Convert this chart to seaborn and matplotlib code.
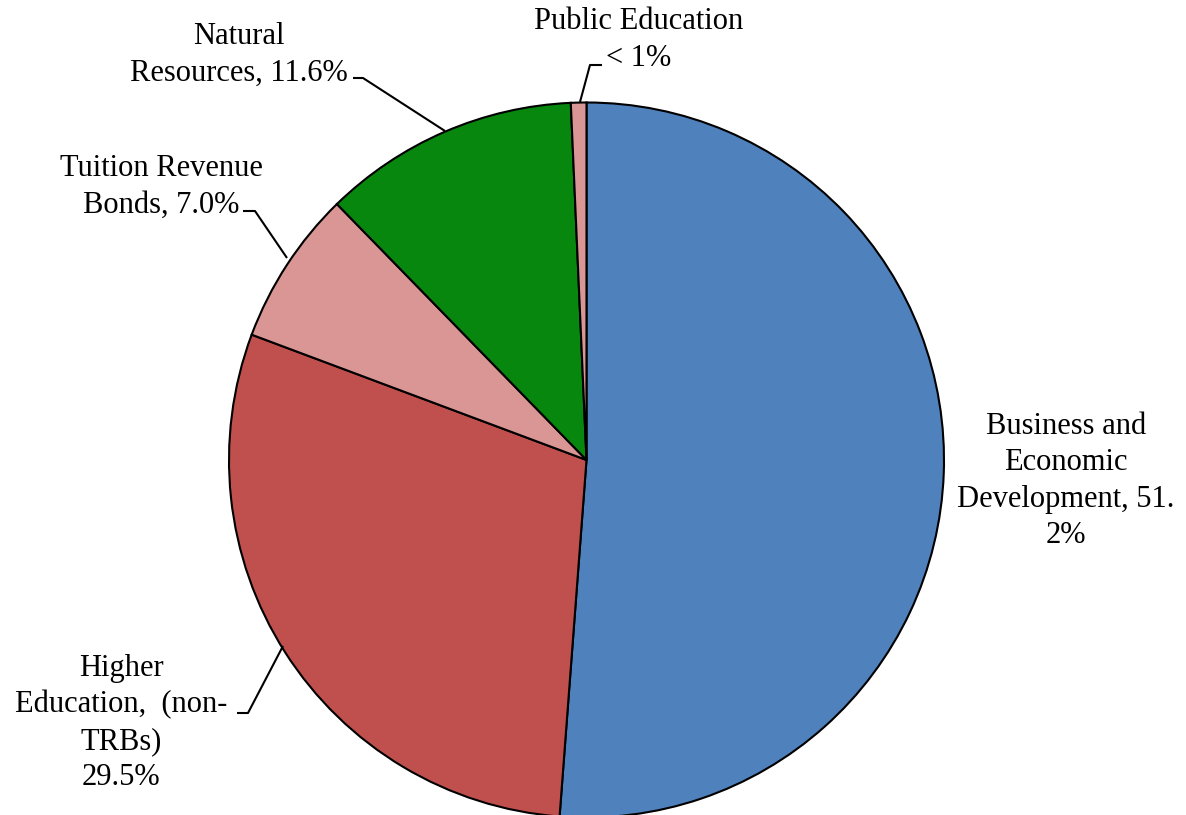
import matplotlib
matplotlib.use("Agg")
import matplotlib.pyplot as plt
import seaborn as sns

# Shares of the total, clockwise from 12 o'clock
categories = ["Business and Economic Development", "Higher Education (non-TRBs)",
              "Tuition Revenue Bonds", "Natural Resources", "Public Education"]
shares = [51.2, 29.5, 7.0, 11.6, 0.7]
colors = ["#4F81BD", "#C0504D", "#D99694", "#08870F", "#D99694"]

sns.set_theme(style="white")
plt.rcParams["font.family"] = ["Liberation Serif", "DejaVu Serif"]

W, H = 1186, 815
fig = plt.figure(figsize=(W / 100, H / 100), dpi=100)
ax = fig.add_axes([0, 0, 1, 1])

cx, cy, r = 586.5, H - 460, 357.5
ax.pie(shares, colors=colors, startangle=90, counterclock=False,
       center=(cx, cy), radius=r, frame=True,
       wedgeprops=dict(edgecolor="black", linewidth=1.5))
ax.set_xlim(0, W)
ax.set_ylim(0, H)
ax.set_aspect("equal")
ax.axis("off")

pct = [f"{v:.1f}%" for v in shares]
labels = [
    "Business and\nEconomic\nDevelopment, " + pct[0][:3] + "\n" + pct[0][3:],
    "Higher\nEducation,  (non-\nTRBs)\n" + pct[1],
    "Tuition Revenue\nBonds, " + pct[2],
    "Natural\nResources, " + pct[3],
    "Public Education\n< 1%",
]
label_pos = [(1066, 481), (121, 723), (161, 187), (239, 55), (639, 40)]
leaders = [
    None,
    [(237, 713), (248, 713), (283, 646)],
    [(243, 211), (255, 211), (287, 258)],
    [(353, 78), (363, 78), (445, 131)],
    [(602, 65), (590, 65), (580, 102)],
]

for text, (x, y), pts in zip(labels, label_pos, leaders):
    ax.text(x, H - y, text, ha="center", va="center", fontsize=22,
            linespacing=1.33, color="black")
    if pts:
        ax.plot([p[0] for p in pts], [H - p[1] for p in pts],
                color="black", linewidth=1.5, solid_capstyle="butt")

fig.savefig("out.png", dpi=100, facecolor="white")
